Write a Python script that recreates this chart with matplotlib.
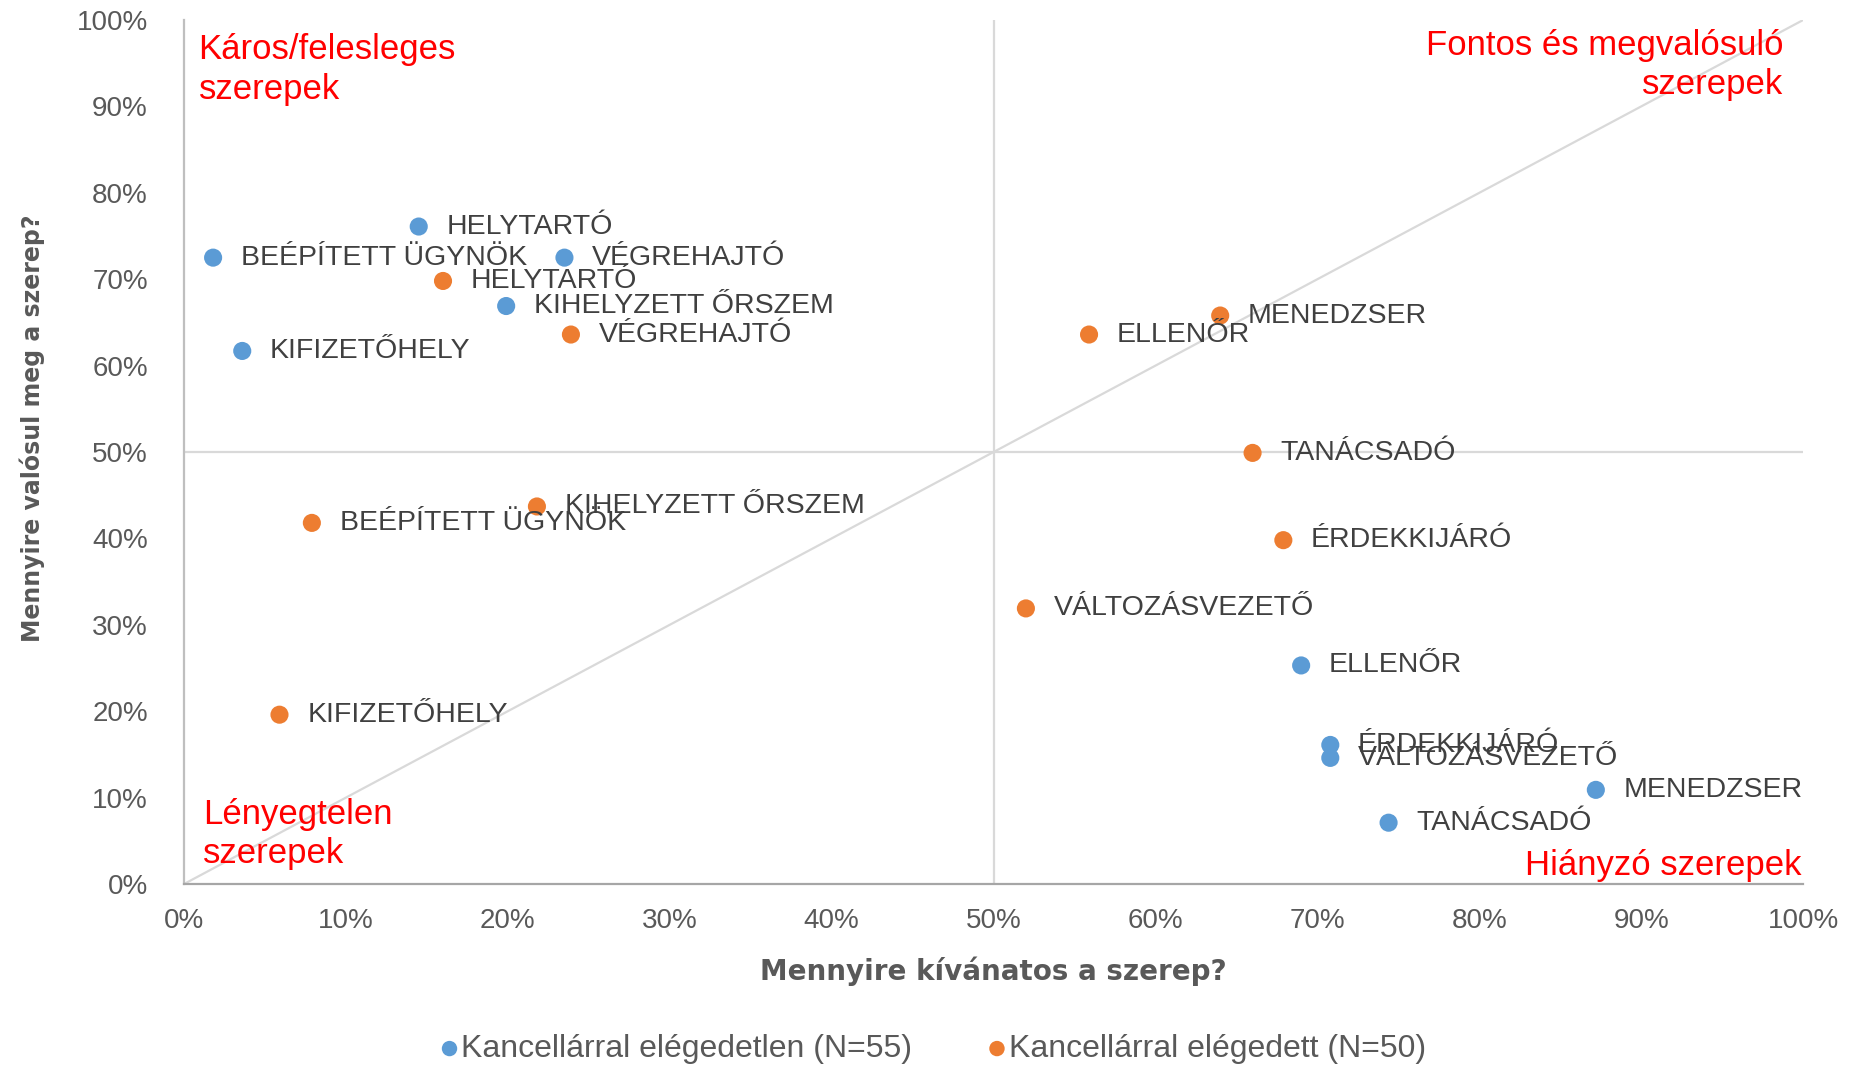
import matplotlib

matplotlib.use("Agg")

import matplotlib.pyplot as plt
from matplotlib.ticker import MultipleLocator, PercentFormatter

# szerepek es ertekek (%), leolvasva az abrarol
roles = ["HELYTARTÓ", "BEÉPÍTETT ÜGYNÖK", "VÉGREHAJTÓ", "KIHELYZETT ŐRSZEM",
         "KIFIZETŐHELY", "ELLENŐR", "ÉRDEKKIJÁRÓ", "VÁLTOZÁSVEZETŐ",
         "MENEDZSER", "TANÁCSADÓ"]
unhappy_x = [14.5, 1.8, 23.5, 19.9, 3.6, 69.0, 70.8, 70.8, 87.2, 74.4]
unhappy_y = [76.1, 72.5, 72.5, 66.9, 61.7, 25.3, 16.1, 14.6, 10.9, 7.1]
happy_x = [16.0, 7.9, 23.9, 21.8, 5.9, 55.9, 67.9, 52.0, 64.0, 66.0]
happy_y = [69.8, 41.8, 63.6, 43.7, 19.6, 63.6, 39.8, 31.9, 65.8, 49.9]
series_names = ["Kancellárral elégedetlen (N=55)", "Kancellárral elégedett (N=50)"]

BLUE = "#5B9BD5"
ORANGE = "#ED7D31"
GRID = "#D9D9D9"
TEXT = "#404040"
AXIS_TEXT = "#595959"

plt.rcParams["font.family"] = ["Liberation Sans", "DejaVu Sans"]

fig = plt.figure(figsize=(18.6, 10.66), dpi=100)
ax = fig.add_axes([0.0989, 0.1707, 0.8705, 0.8105])

# referencia vonalak
ax.axvline(50, color=GRID, lw=1.6, zorder=0)
ax.axhline(50, color=GRID, lw=1.6, zorder=0)
ax.plot([0, 100], [0, 100], color=GRID, lw=1.6, zorder=0)

for xs, ys, color, name in [(unhappy_x, unhappy_y, BLUE, series_names[0]),
                            (happy_x, happy_y, ORANGE, series_names[1])]:
    ax.scatter(xs, ys, s=170, color=color, edgecolors="none", label=name, zorder=3)
    for x, y, role in zip(xs, ys, roles):
        ax.annotate(role, (x, y), xytext=(20, 0), textcoords="offset points",
                    va="center", ha="left", fontsize=20.5, color=TEXT, zorder=4)

ax.set_xlim(0, 100)
ax.set_ylim(0, 100)
ax.xaxis.set_major_locator(MultipleLocator(10))
ax.yaxis.set_major_locator(MultipleLocator(10))
ax.xaxis.set_major_formatter(PercentFormatter(100, decimals=0))
ax.yaxis.set_major_formatter(PercentFormatter(100, decimals=0))
ax.tick_params(axis="both", length=0, labelsize=20, labelcolor=AXIS_TEXT)
ax.tick_params(axis="x", pad=17)
ax.tick_params(axis="y", pad=26)

for side in ["top", "right"]:
    ax.spines[side].set_visible(False)
ax.spines["left"].set_color("#BFBFBF")
ax.spines["bottom"].set_color("#A6A6A6")
ax.spines["left"].set_linewidth(1.6)
ax.spines["bottom"].set_linewidth(1.6)

ax.set_xlabel("Mennyire kívánatos a szerep?", family="DejaVu Sans",
              fontweight="bold", fontsize=20, color=AXIS_TEXT, va="center")
ax.xaxis.set_label_coords(0.5, -0.101)
ax.set_ylabel("Mennyire valósul meg a szerep?", family="DejaVu Sans",
              fontweight="bold", fontsize=17, color=AXIS_TEXT, va="center")
ax.yaxis.set_label_coords(-0.094, 0.527)

# kvadrans feliratok
red = dict(color="#FF0000", fontsize=25, transform=ax.transAxes, linespacing=1.25)
ax.text(0.009, 0.985, "Káros/felesleges\nszerepek", ha="left", va="top", **red)
ax.text(0.988, 0.99, "Fontos és megvalósuló\nszerepek", ha="right", va="top",
        multialignment="right", **red)
ax.text(0.0117, 0.10, "Lényegtelen\nszerepek", ha="left", va="top", **red)
ax.text(0.999, 0.022, "Hiányzó szerepek", ha="right", va="center", **red)

fig.legend(loc="center", bbox_to_anchor=(0.502, 0.016), ncol=2, frameon=False,
           fontsize=23, markerscale=0.85, handlelength=0.5, handletextpad=0.12,
           columnspacing=2.4, labelcolor=AXIS_TEXT, borderpad=0.2)

fig.savefig("out.png", dpi=100)
